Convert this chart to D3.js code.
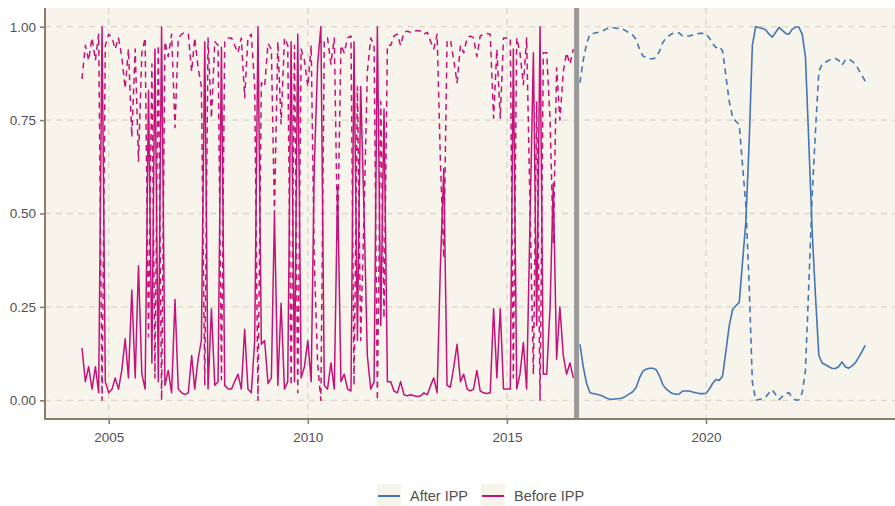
<!DOCTYPE html>
<html>
<head>
<meta charset="utf-8">
<script src="https://cdn.jsdelivr.net/npm/d3@7"></script>
<style>
  html, body { margin: 0; padding: 0; background: #ffffff; }
  svg { display: block; font-family: "Liberation Sans", Arial, Helvetica, sans-serif; }
</style>
</head>
<body>
<svg id="chart" width="895" height="506"></svg>
<script>
// ---- data: monthly smoothed regime probabilities ----
const beforeStart = "2004-05";   // first month of the pre-IPP sample
const afterStart  = "2016-11";   // first month of the post-IPP sample
const breakMonth  = "2016-10";   // IPP start, marked with a vertical rule

// regime 1 (solid) and regime 2 (dashed), before IPP
const beforeRegime1 = [
  0.14, 0.05, 0.09, 0.03, 0.09, 0.02, 1.00, 0.05, 0.02, 0.03,
  0.06, 0.03, 0.08, 0.165, 0.06, 0.295, 0.06, 0.36, 0.07, 0.03,
  0.83, 0.10, 0.94, 0.05, 1.00, 0.04, 0.08, 0.02, 0.27, 0.03,
  0.02, 0.015, 0.02, 0.12, 0.03, 0.11, 0.16, 0.96, 0.03, 0.245,
  0.04, 0.05, 0.945, 0.04, 0.03, 0.03, 0.05, 0.07, 0.03, 0.19,
  0.03, 0.02, 0.16, 1.00, 0.15, 0.16, 0.045, 0.06, 0.50, 0.04,
  0.26, 0.03, 0.05, 0.96, 0.05, 0.98, 0.06, 0.09, 0.16, 0.05,
  0.62, 0.90, 1.00, 0.04, 0.03, 0.10, 0.03, 0.57, 0.05, 0.07,
  0.03, 0.025, 0.96, 0.16, 0.84, 0.50, 0.12, 0.03, 0.05, 1.00,
  0.20, 0.78, 0.05, 0.05, 0.025, 0.02, 0.05, 0.015, 0.012, 0.015,
  0.012, 0.01, 0.012, 0.02, 0.015, 0.04, 0.06, 0.02, 0.36, 0.62,
  0.04, 0.035, 0.09, 0.15, 0.05, 0.07, 0.03, 0.025, 0.03, 0.08,
  0.025, 0.02, 0.018, 0.02, 0.245, 0.06, 0.245, 0.03, 0.03, 0.03,
  0.94, 0.03, 0.07, 0.155, 0.03, 0.48, 0.93, 0.20, 1.00, 0.07,
  0.07, 0.25, 0.58, 0.11, 0.25, 0.12, 0.07, 0.10, 0.06
];
const beforeRegime2 = [
  0.86, 0.95, 0.91, 0.97, 0.91, 0.98, 0.00, 0.95, 0.98, 0.97,
  0.94, 0.97, 0.92, 0.835, 0.94, 0.705, 0.94, 0.64, 0.93, 0.97,
  0.17, 0.90, 0.06, 0.95, 0.00, 0.96, 0.92, 0.98, 0.73, 0.97,
  0.98, 0.985, 0.98, 0.88, 0.97, 0.89, 0.84, 0.04, 0.97, 0.755,
  0.96, 0.95, 0.055, 0.96, 0.97, 0.97, 0.95, 0.93, 0.97, 0.81,
  0.97, 0.98, 0.84, 0.00, 0.85, 0.84, 0.955, 0.94, 0.50, 0.96,
  0.74, 0.97, 0.95, 0.04, 0.95, 0.02, 0.94, 0.91, 0.84, 0.95,
  0.38, 0.10, 0.00, 0.96, 0.97, 0.90, 0.97, 0.43, 0.95, 0.93,
  0.97, 0.975, 0.04, 0.84, 0.16, 0.50, 0.88, 0.97, 0.95, 0.00,
  0.80, 0.22, 0.95, 0.95, 0.975, 0.98, 0.95, 0.985, 0.988, 0.985,
  0.988, 0.99, 0.988, 0.98, 0.985, 0.96, 0.94, 0.98, 0.64, 0.38,
  0.96, 0.965, 0.91, 0.85, 0.95, 0.93, 0.97, 0.975, 0.97, 0.92,
  0.975, 0.98, 0.982, 0.98, 0.755, 0.94, 0.755, 0.97, 0.97, 0.97,
  0.06, 0.97, 0.93, 0.845, 0.97, 0.52, 0.07, 0.80, 0.00, 0.93,
  0.93, 0.75, 0.42, 0.89, 0.75, 0.88, 0.93, 0.90, 0.94
];

// regime 1 (solid) and regime 2 (dashed), after IPP
const afterRegime1 = [
  0.15, 0.09, 0.045, 0.02, 0.018, 0.016, 0.014, 0.011, 0.006, 0.003,
  0.003, 0.004, 0.005, 0.007, 0.012, 0.018, 0.023, 0.035, 0.06, 0.078,
  0.083, 0.086, 0.086, 0.082, 0.065, 0.042, 0.03, 0.023, 0.018, 0.016,
  0.017, 0.025, 0.025, 0.025, 0.022, 0.02, 0.018, 0.018, 0.019, 0.03,
  0.045, 0.056, 0.053, 0.065, 0.13, 0.20, 0.243, 0.253, 0.262, 0.37,
  0.48, 0.70, 0.95, 1.00, 0.998, 0.995, 0.992, 0.98, 0.972, 0.985,
  0.998, 0.99, 0.982, 0.98, 0.993, 0.999, 0.999, 0.98, 0.92, 0.69,
  0.45, 0.28, 0.12, 0.10, 0.095, 0.09, 0.086, 0.085, 0.09, 0.103,
  0.09, 0.086, 0.092, 0.10, 0.115, 0.13, 0.147
];
const afterRegime2 = [
  0.85, 0.91, 0.955, 0.98, 0.982, 0.984, 0.986, 0.989, 0.994, 0.997,
  0.997, 0.996, 0.995, 0.993, 0.988, 0.982, 0.977, 0.965, 0.94, 0.922,
  0.917, 0.914, 0.914, 0.918, 0.935, 0.958, 0.97, 0.977, 0.982, 0.984,
  0.983, 0.975, 0.975, 0.975, 0.978, 0.98, 0.982, 0.982, 0.981, 0.97,
  0.955, 0.944, 0.947, 0.935, 0.87, 0.80, 0.757, 0.747, 0.738, 0.63,
  0.52, 0.30, 0.05, 0.00, 0.002, 0.005, 0.008, 0.02, 0.028, 0.015,
  0.002, 0.01, 0.018, 0.02, 0.007, 0.001, 0.001, 0.02, 0.08, 0.31,
  0.55, 0.72, 0.88, 0.90, 0.905, 0.91, 0.914, 0.915, 0.91, 0.897,
  0.91, 0.914, 0.908, 0.90, 0.885, 0.87, 0.853
];

const yTickValues = [0, 0.25, 0.5, 0.75, 1];
const xTickYears  = [2005, 2010, 2015, 2020];
const legendNames = ["After IPP", "Before IPP"];

// ---- styling ----
const colors = { "After IPP": "#4575B4", "Before IPP": "#C4127A" };
const panelFill = "#F7F4EC";
const gridColor = "#DCD6C3";
const axisColor = "#8C7D6E";
const textColor = "#555050";

const svg = d3.select("#chart");
const panel = { left: 45, right: 895, top: 8, bottom: 419 };

// year anchors for the time axis; the panel edges are read back from them
const anchor = d3.scaleTime()
  .domain([new Date(2005, 0, 1), new Date(2020, 0, 1)])
  .range([108.7, 706]);
const x = d3.scaleTime()
  .domain([anchor.invert(panel.left), anchor.invert(panel.right)])
  .range([panel.left, panel.right]);
const y = d3.scaleLinear().domain([-0.05, 1.05]).range([panel.bottom, panel.top]);

const parseMonth = d3.timeParse("%Y-%m");
function monthly(start, values) {
  const t0 = parseMonth(start);
  return values.map((v, i) => ({ date: d3.timeMonth.offset(t0, i), value: v }));
}

const series = [
  { name: "Before IPP", dashed: true,  data: monthly(beforeStart, beforeRegime2) },
  { name: "Before IPP", dashed: false, data: monthly(beforeStart, beforeRegime1) },
  { name: "After IPP",  dashed: true,  data: monthly(afterStart,  afterRegime2) },
  { name: "After IPP",  dashed: false, data: monthly(afterStart,  afterRegime1) }
];

// panel background
svg.append("rect")
  .attr("x", panel.left).attr("y", panel.top)
  .attr("width", panel.right - panel.left).attr("height", panel.bottom - panel.top)
  .attr("fill", panelFill);

// dashed grid
const grid = svg.append("g").attr("stroke", gridColor).attr("stroke-width", 1.3)
  .attr("stroke-dasharray", "6,5").attr("fill", "none");
grid.selectAll("line.h").data(yTickValues).join("line").attr("class", "h")
  .attr("x1", panel.left).attr("x2", panel.right)
  .attr("y1", d => y(d)).attr("y2", d => y(d));
grid.selectAll("line.v").data(xTickYears).join("line").attr("class", "v")
  .attr("x1", d => x(new Date(d, 0, 1))).attr("x2", d => x(new Date(d, 0, 1)))
  .attr("y1", panel.top).attr("y2", panel.bottom);

// IPP start marker
svg.append("line")
  .attr("x1", x(parseMonth(breakMonth))).attr("x2", x(parseMonth(breakMonth)))
  .attr("y1", panel.top).attr("y2", panel.bottom)
  .attr("stroke", "#999999").attr("stroke-width", 5);

// probability lines
const line = d3.line().x(d => x(d.date)).y(d => y(d.value));
svg.append("g").selectAll("path").data(series).join("path")
  .attr("d", d => line(d.data))
  .attr("fill", "none")
  .attr("stroke", d => colors[d.name])
  .attr("stroke-width", d => d.name === "After IPP" ? 1.6 : 1.5)
  .attr("stroke-linejoin", "round")
  .attr("stroke-dasharray", d => d.dashed ? "6,4.5" : null);

// axes
const yAxis = svg.append("g").attr("transform", `translate(${panel.left},0)`)
  .call(d3.axisLeft(y).tickValues(yTickValues).tickFormat(d3.format(".2f"))
    .tickSize(5).tickSizeOuter(0).tickPadding(4));
const xAxis = svg.append("g").attr("transform", `translate(0,${panel.bottom})`)
  .call(d3.axisBottom(x).tickValues(xTickYears.map(yr => new Date(yr, 0, 1)))
    .tickFormat(d3.timeFormat("%Y")).tickSize(5).tickSizeOuter(0).tickPadding(8));
[yAxis, xAxis].forEach(g => {
  g.select(".domain").remove();
  g.selectAll(".tick line").attr("stroke", axisColor).attr("stroke-width", 1.6);
  g.selectAll(".tick text").attr("fill", textColor)
    .style("font-size", "13.5px").style("font-family", "'Liberation Sans', Arial, sans-serif");
});
svg.append("line").attr("x1", panel.left).attr("x2", panel.left)
  .attr("y1", panel.top).attr("y2", panel.bottom + 1)
  .attr("stroke", axisColor).attr("stroke-width", 2);
svg.append("line").attr("x1", panel.left - 1).attr("x2", panel.right)
  .attr("y1", panel.bottom).attr("y2", panel.bottom)
  .attr("stroke", axisColor).attr("stroke-width", 2);

// legend along the bottom
const legend = svg.append("g");
const keySize = 24, legendY = 496;
let cursor = 377;
legendNames.forEach(name => {
  const item = legend.append("g");
  item.append("rect").attr("x", cursor).attr("y", legendY - keySize / 2)
    .attr("width", keySize).attr("height", keySize).attr("fill", panelFill);
  item.append("line").attr("x1", cursor + 1).attr("x2", cursor + keySize - 1)
    .attr("y1", legendY).attr("y2", legendY)
    .attr("stroke", colors[name]).attr("stroke-width", 2);
  const label = item.append("text").attr("x", cursor + keySize + 9).attr("y", legendY)
    .attr("dy", "0.35em").attr("fill", textColor)
    .style("font-size", "14.5px").text(name);
  cursor += keySize + 9 + label.node().getComputedTextLength() + 13;
});
</script>
</body>
</html>
